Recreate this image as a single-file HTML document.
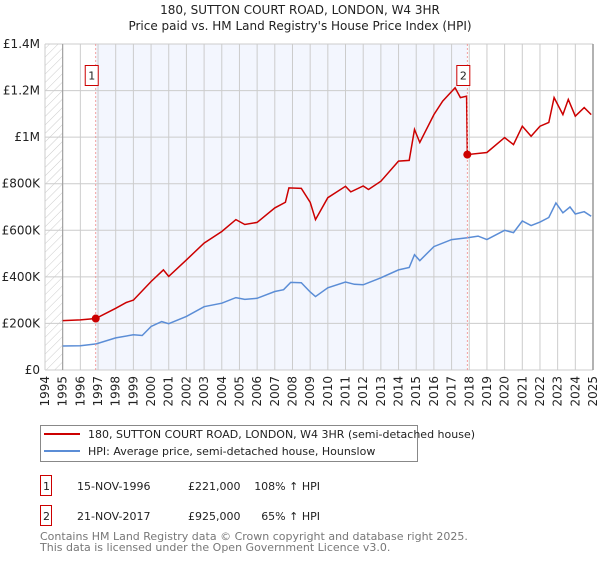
<!DOCTYPE html>
<html><head><meta charset="utf-8"><style>
body{margin:0;background:#fff;font-family:"DejaVu Sans","Liberation Sans",sans-serif;}
svg text{font-family:"DejaVu Sans","Liberation Sans",sans-serif;}
</style></head><body>
<svg id="c" width="600" height="560" xmlns="http://www.w3.org/2000/svg">
<defs><pattern id="h" width="6" height="6" patternUnits="userSpaceOnUse" patternTransform="rotate(45)"><line x1="0" y1="0" x2="0" y2="6" stroke="#ccc" stroke-width="1"/></pattern></defs>
<text x="300" y="14" text-anchor="middle" font-size="12" fill="#222">180, SUTTON COURT ROAD, LONDON, W4 3HR</text>
<text x="300" y="30" text-anchor="middle" font-size="12" fill="#222">Price paid vs. HM Land Registry's House Price Index (HPI)</text>
<g id="plot"></g>
<g>
<rect x="40.5" y="425.5" width="377" height="36" fill="#fff" stroke="#888"/>
<line x1="44" y1="434" x2="80" y2="434" stroke="#cc0000" stroke-width="2"/>
<text x="88" y="438" font-size="11" fill="#222">180, SUTTON COURT ROAD, LONDON, W4 3HR (semi-detached house)</text>
<line x1="44" y1="451" x2="80" y2="451" stroke="#5b8dd6" stroke-width="2"/>
<text x="88" y="455" font-size="11" fill="#222">HPI: Average price, semi-detached house, Hounslow</text>
</g>
<g font-size="11" fill="#222">
<rect x="40.5" y="475.5" width="11" height="20" fill="none" stroke="#cc0000"/><text x="43" y="490">1</text>
<text x="77" y="490">15-NOV-1996</text><text x="188" y="490">£221,000</text><text x="320" y="490" text-anchor="end">108% ↑ HPI</text>
<rect x="40.5" y="505.5" width="11" height="20" fill="none" stroke="#cc0000"/><text x="43" y="520">2</text>
<text x="77" y="520">21-NOV-2017</text><text x="188" y="520">£925,000</text><text x="320" y="520" text-anchor="end">65% ↑ HPI</text>
</g>
<text x="40" y="540" font-size="11" fill="#777">Contains HM Land Registry data © Crown copyright and database right 2025.</text>
<text x="40" y="551" font-size="11" fill="#777">This data is licensed under the Open Government Licence v3.0.</text>
</svg>
<script>
const yTicks=[0,200000,400000,600000,800000,1000000,1200000,1400000];
const yTickLabels=["£0","£200K","£400K","£600K","£800K","£1M","£1.2M","£1.4M"];
const years=[1994,1995,1996,1997,1998,1999,2000,2001,2002,2003,2004,2005,2006,2007,2008,2009,2010,2011,2012,2013,2014,2015,2016,2017,2018,2019,2020,2021,2022,2023,2024,2025];
const hpiDates=[1995,1996,1996.9,1998,1999,1999.5,2000,2000.6,2001,2002,2003,2004,2004.8,2005.3,2006,2007,2007.5,2007.9,2008.5,2009,2009.3,2010,2011,2011.5,2012,2013,2014,2014.6,2014.9,2015.2,2016,2017,2017.9,2018.5,2019,2020,2020.5,2021,2021.5,2022,2022.5,2022.9,2023.3,2023.7,2024,2024.5,2024.9];
const hpiValues=[103000,104000,112000,138000,151000,148000,187000,208000,199000,230000,272000,287000,311000,303000,308000,337000,345000,376000,375000,335000,315000,353000,378000,368000,366000,396000,430000,440000,495000,470000,530000,560000,568000,575000,560000,600000,590000,640000,620000,635000,655000,717000,675000,700000,670000,680000,660000];
const priceDates=[1995,1996,1996.87,1998,1998.6,1999,2000,2000.7,2001,2002,2003,2004,2004.8,2005.3,2006,2007,2007.6,2007.8,2008.5,2009,2009.3,2010,2011,2011.3,2012,2012.3,2013,2014,2014.6,2014.9,2015.2,2016,2016.5,2017.2,2017.5,2017.85,2017.89,2019,2020,2020.5,2021,2021.5,2022,2022.5,2022.8,2023.3,2023.6,2024,2024.5,2024.9];
const priceValues=[212000,215000,221000,265000,290000,300000,380000,430000,402000,473000,545000,595000,646000,625000,634000,696000,720000,782000,780000,720000,646000,740000,789000,765000,790000,775000,811000,897000,900000,1033000,977000,1097000,1155000,1212000,1170000,1176000,925000,934000,998000,968000,1047000,1004000,1047000,1063000,1170000,1097000,1162000,1090000,1127000,1097000];
const sales=[{d:1996.87,v:221000,n:"1"},{d:2017.89,v:925000,n:"2"}];
const X0=45,X1=593,Y0=370,Y1=44;
const xs=y=>X0+(y-1994)/(2025-1994)*(X1-X0);
const ys=v=>Y0-v/1400000*(Y0-Y1);
const NS="http://www.w3.org/2000/svg";
const g=document.getElementById('plot');
function mk(t,a){const e=document.createElementNS(NS,t);for(const k in a)e.setAttribute(k,a[k]);g.appendChild(e);return e;}
let e;
e=mk('rect',{x:xs(sales[0].d),y:Y1,width:xs(sales[1].d)-xs(sales[0].d),height:Y0-Y1,fill:'#f3f6fe'});


e=mk('rect',{x:X0,y:Y1,width:xs(1995)-X0,height:Y0-Y1,fill:'url(#h)'});


yTicks.forEach((v,i)=>{
 e=mk('line',{x1:X0,x2:X1,y1:ys(v),y2:ys(v),stroke:'#ccc'});
 
 
 e=mk('text',{x:40,y:ys(v)+4,'text-anchor':'end','font-size':'12',fill:'#222'});
 e.textContent=yTickLabels[i];
 
 
});
years.forEach(y=>{
 e=mk('line',{x1:xs(y),x2:xs(y),y1:Y1,y2:Y0,stroke:'#ccc'});
 
 
 e=mk('text',{x:0,y:0,'font-size':'12',fill:'#222','text-anchor':'end',transform:`translate(${xs(y)+4},${Y0+6}) rotate(-90)`});
 e.textContent=y;
 
 
});
e=mk('line',{x1:xs(1995),x2:xs(1995),y1:Y1,y2:Y0,stroke:'#999'});


e=mk('line',{x1:X1,x2:X1,y1:Y1,y2:Y0,stroke:'#999',"stroke-width":1.5});


function path(d,v){return d.map((t,i)=>(i?'L':'M')+xs(t).toFixed(1)+','+ys(v[i]).toFixed(1)).join('');}
e=mk('path',{d:path(hpiDates,hpiValues),fill:'none',stroke:'#5b8dd6','stroke-width':1.5});


e=mk('path',{d:path(priceDates,priceValues),fill:'none',stroke:'#cc0000','stroke-width':1.5});


sales.forEach(s=>{
 e=mk('line',{x1:xs(s.d),x2:xs(s.d),y1:Y1,y2:Y0,stroke:'#e88','stroke-width':0.8,'stroke-dasharray':'2,2'});
 
 
 e=mk('circle',{cx:xs(s.d),cy:ys(s.v),r:4,fill:'#cc0000'});
 
 
 e=mk('rect',{x:xs(s.d)-10.5,y:65.5,width:13,height:20,fill:'#fff',stroke:'#cc0000'});
 
 
 e=mk('text',{x:xs(s.d)-4,y:79.5,'font-size':'11','text-anchor':'middle',fill:'#222'});
 e.textContent=s.n;
 
 
});
</script>
</body></html>
